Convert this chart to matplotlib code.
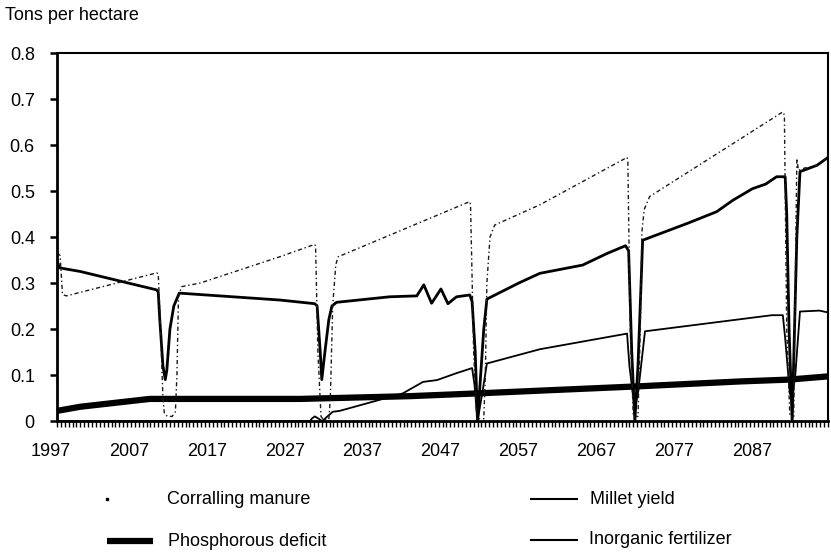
import matplotlib
matplotlib.use('Agg')
import matplotlib.pyplot as plt
import matplotlib.transforms as mtransforms
from matplotlib.lines import Line2D
from matplotlib.ticker import MultipleLocator

# simulated series, tons per hectare by year
manure_years = [1997.0, 1997.4, 1997.7, 1998.2, 2009.8, 2010.0, 2010.3, 2010.6, 2010.8, 2011.2,
                2011.8, 2012.2, 2012.4, 2012.6, 2013.0, 2015.4, 2025.6, 2030.1, 2030.2, 2030.5,
                2030.9, 2031.2, 2031.9, 2032.1, 2032.4, 2032.8, 2033.1, 2050.0, 2050.1, 2050.5,
                2050.9, 2051.8, 2052.0, 2052.2, 2052.6, 2053.2, 2059.0, 2070.2, 2070.3, 2070.6,
                2071.0, 2071.6, 2071.9, 2072.1, 2072.4, 2073.1, 2090.2, 2090.4, 2090.7, 2091.1,
                2091.6, 2091.8, 2092.0, 2092.2, 2093.0, 2094.6, 2096.0]
manure_tons = [0.365, 0.36, 0.275, 0.272, 0.322, 0.32, 0.2, 0.05, 0.015, 0.01,
               0.01, 0.02, 0.1, 0.27, 0.292, 0.30, 0.357, 0.384, 0.38, 0.15,
               0.01, 0.003, 0.003, 0.05, 0.25, 0.34, 0.357, 0.477, 0.47, 0.15,
               0.005, 0.005, 0.1, 0.3, 0.4, 0.426, 0.47, 0.573, 0.565, 0.2,
               0.01, 0.01, 0.2, 0.41, 0.46, 0.488, 0.672, 0.665, 0.2, 0.01,
               0.01, 0.3, 0.571, 0.545, 0.55, 0.556, 0.573]

millet_years = [1997.0, 1997.3, 2000.0, 2009.8, 2010.0, 2010.2, 2010.6, 2010.9, 2011.1, 2011.5,
                2012.0, 2012.7, 2025.6, 2030.1, 2030.4, 2030.8, 2031.0, 2031.4, 2031.9, 2032.3,
                2032.9, 2039.7, 2043.2, 2044.1, 2045.1, 2046.3, 2047.2, 2048.3, 2050.0, 2050.3,
                2050.7, 2051.0, 2051.4, 2051.8, 2052.2, 2056.3, 2059.0, 2064.5, 2067.6, 2070.0,
                2070.4, 2070.8, 2071.2, 2071.6, 2072.0, 2072.2, 2078.0, 2081.7, 2083.8, 2086.3,
                2088.0, 2089.4, 2090.5, 2090.7, 2091.0, 2091.4, 2091.7, 2092.0, 2092.4, 2094.6,
                2096.0]
millet_tons = [0.35, 0.333, 0.325, 0.285, 0.28, 0.22, 0.12, 0.09, 0.11, 0.2,
               0.25, 0.278, 0.263, 0.255, 0.25, 0.15, 0.09, 0.15, 0.22, 0.25,
               0.258, 0.27, 0.272, 0.296, 0.256, 0.287, 0.255, 0.27, 0.274, 0.26,
               0.15, 0.0, 0.1, 0.2, 0.265, 0.30, 0.321, 0.339, 0.364, 0.381,
               0.37, 0.15, 0.0, 0.12, 0.3, 0.393, 0.43, 0.455, 0.48, 0.505,
               0.515, 0.531, 0.531, 0.45, 0.2, 0.0, 0.2, 0.4, 0.542, 0.556,
               0.573]

fert_years = [1997.0, 2029.5, 2029.7, 2030.1, 2030.6, 2031.0, 2031.4, 2032.4, 2033.3, 2041.4,
              2044.0, 2045.8, 2048.3, 2050.3, 2050.6, 2051.0, 2051.6, 2052.2, 2059.0, 2070.2,
              2070.5, 2071.0, 2071.2, 2071.6, 2072.0, 2072.5, 2088.8, 2090.2, 2090.5, 2091.1,
              2091.4, 2091.8, 2092.4, 2094.9, 2096.0]
fert_tons = [0.0, 0.0, 0.005, 0.01, 0.005, 0.0, 0.005, 0.02, 0.022, 0.06,
             0.085, 0.089, 0.104, 0.115, 0.08, 0.0, 0.06, 0.125, 0.156, 0.19,
             0.12, 0.05, 0.03, 0.06, 0.12, 0.195, 0.23, 0.23, 0.18, 0.06,
             0.05, 0.1, 0.238, 0.24, 0.236]

phos_years = [1997.0, 2000.0, 2008.9, 2012.0, 2028.2, 2042.3, 2051.0, 2059.0, 2071.2, 2084.7,
              2091.0, 2096.0]
phos_tons = [0.022, 0.031, 0.048, 0.048, 0.048, 0.054, 0.06, 0.066, 0.075, 0.086,
             0.09, 0.097]

year_ticks = [1997, 2007, 2017, 2027, 2037, 2047, 2057, 2067, 2077, 2087]
ton_ticks = [0, 0.1, 0.2, 0.3, 0.4, 0.5, 0.6, 0.7, 0.8]
ton_labels = ['0', '0.1', '0.2', '0.3', '0.4', '0.5', '0.6', '0.7', '0.8']
legend_labels = ['Corralling manure', 'Phosphorous deficit', 'Millet yield', 'Inorganic fertilizer']

plt.rcParams['font.family'] = ['Liberation Sans', 'DejaVu Sans']
plt.rcParams['font.size'] = 13

W, H = 831, 554
fig = plt.figure(figsize=(W / 100, H / 100), dpi=100)


def fx(px):
    return px / W


def fy(py):
    return 1 - py / H


ax = fig.add_axes([fx(57), fy(421), fx(828) - fx(57), fy(53) - fy(421)])

dash_dot = (0, (3, 2, 1, 2))
ax.plot(phos_years, phos_tons, color='black', lw=4.5, solid_capstyle='butt')
ax.plot(fert_years, fert_tons, color='black', lw=1.3)
ax.plot(millet_years, millet_tons, color='black', lw=2.0)
ax.plot(manure_years, manure_tons, color='#1a1a1a', lw=1.0, ls=dash_dot)

ax.set_xlim(1997, 2096)
ax.set_ylim(0, 0.8)
ax.set_xticks(year_ticks)
ax.set_xticklabels([str(y) for y in year_ticks])
ax.xaxis.set_minor_locator(MultipleLocator(0.5))
ax.set_yticks(ton_ticks)
ax.set_yticklabels(ton_labels)

# half-year marks along the bottom, tenths on the left
ax.tick_params(axis='x', which='major', direction='out', length=4.5, width=1.0, pad=11.5)
ax.tick_params(axis='x', which='minor', direction='out', length=4.5, width=1.0)
ax.tick_params(axis='y', which='major', direction='out', length=5, width=1.8, pad=11)

# year labels sit a little left of their tick
shift = mtransforms.ScaledTranslation(-6 / 100, 0, fig.dpi_scale_trans)
for lab in ax.get_xticklabels():
    lab.set_transform(lab.get_transform() + shift)

for side in ['left', 'bottom']:
    ax.spines[side].set_linewidth(2.0)
for side in ['top', 'right']:
    ax.spines[side].set_linewidth(1.5)

fig.text(fx(5), fy(16), 'Tons per hectare', ha='left', va='center', fontsize=13)

# legend drawn by hand, two columns below the plot
fig.add_artist(Line2D([fx(107)], [fy(499)], marker='s', ms=1.5, color='black',
                      lw=0, transform=fig.transFigure))
fig.add_artist(Line2D([fx(107), fx(153)], [fy(541), fy(541)], color='black', lw=4.5,
                      solid_capstyle='butt', transform=fig.transFigure))
fig.add_artist(Line2D([fx(531), fx(577)], [fy(499), fy(499)], color='black', lw=1.5,
                      transform=fig.transFigure))
fig.add_artist(Line2D([fx(531), fx(577)], [fy(540), fy(540)], color='black', lw=1.5,
                      transform=fig.transFigure))
fig.text(fx(167), fy(499), legend_labels[0], ha='left', va='center')
fig.text(fx(168), fy(541), legend_labels[1], ha='left', va='center')
fig.text(fx(590), fy(499), legend_labels[2], ha='left', va='center')
fig.text(fx(589), fy(540), legend_labels[3], ha='left', va='center')

fig.savefig('out.png', dpi=100)
